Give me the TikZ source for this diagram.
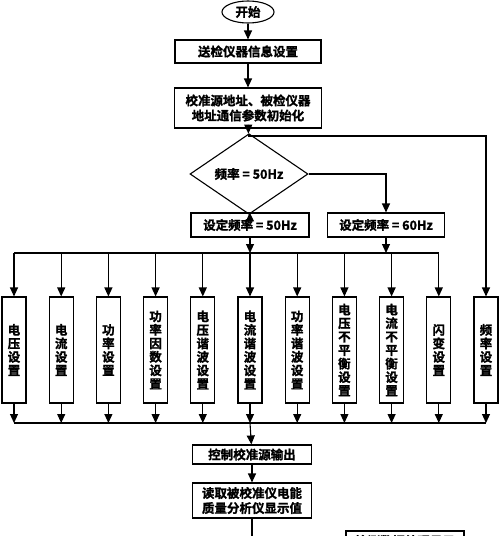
\documentclass[tikz,border=0pt]{standalone}
\usepackage{fontspec}
\setmainfont{Noto Sans CJK SC}[BoldFont={Noto Sans CJK SC Bold}, BoldFeatures={FakeBold=1.5}]
\usetikzlibrary{arrows.meta, positioning, shapes.geometric}

\begin{document}
\begin{tikzpicture}[
x=1pt, y=-1pt,
line width=1.1pt,
font=\bfseries\fontsize{12.5}{15}\selectfont,
box/.style={rectangle, draw, inner sep=1pt, minimum height=23pt},
vbox/.style={rectangle, draw, inner sep=1pt, minimum width=24pt, minimum height=106pt, align=center, font=\bfseries\fontsize{12.5}{13.5}\selectfont},
arrow/.style={-{Triangle[length=9pt,width=8pt]}}
]
\useasboundingbox (0,0) rectangle (500,536);

\node[ellipse, draw, minimum width=52pt, minimum height=22pt, inner sep=0pt] (start) at (248,12) {开始};
\node[box, minimum width=146pt] (info) at (248,51.5) {送检仪器信息设置};
\node[box, minimum width=147pt, minimum height=40pt, align=center] (init) at (248,108) {校准源地址、被检仪器\\地址通信参数初始化};
\node[diamond, draw, minimum width=118pt, minimum height=38pt, inner sep=0pt] (freq) at (249,174) {频率 = 50Hz};
\node[box, minimum width=118pt, minimum height=24pt] (f50) at (250,225) {设定频率 = 50Hz};
\node[box, minimum width=117pt, minimum height=24pt] (f60) at (386,225) {设定频率 = 60Hz};

% setting boxes
\foreach \i/\txt in {1/{电\\压\\设\\置}, 2/{电\\流\\设\\置}, 3/{功\\率\\设\\置},
  4/{功\\率\\因\\数\\设\\置}, 5/{电\\压\\谐\\波\\设\\置}, 6/{电\\流\\谐\\波\\设\\置},
  7/{功\\率\\谐\\波\\设\\置}, 8/{电\\压\\不\\平\\衡\\设\\置}, 9/{电\\流\\不\\平\\衡\\设\\置},
  10/{闪\\变\\设\\置}, 11/{频\\率\\设\\置}}
  \node[vbox] (set\i) at ({14+(\i-1)*47.2},350) {\txt};

\node[box, minimum width=119pt, minimum height=19pt] (ctrl) at (252,454.5) {控制校准源输出};
\node[box, minimum width=119pt, minimum height=35pt, align=center] (read) at (252,500.5) {读取被校准仪电能\\质量分析仪显示值};
\node[box, minimum width=118pt, minimum height=20pt, inner sep=0pt] (proc) at (405,541) {检测数据处理显示};

\coordinate (branch) at (init.south |- 0,136);
\coordinate (topbus) at (0,253);
\coordinate (botbus) at (0,423);
\coordinate (out) at (read.south |- 0,545);

\draw[arrow] (start) -- (info);
\draw[arrow] (info) -- (init);
\draw[arrow] (init) -- (freq);
\draw[arrow] (branch) -| (set11.north);
\draw[arrow] (freq) -- (f50);
\draw[arrow] (freq.east) -| (f60);
\draw[arrow] (f50) -- (f50 |- topbus);
\draw[arrow] (f60) -- (f60 |- topbus);
\draw (set1.north |- topbus) -- (set10.north |- topbus);
\foreach \i in {1,...,10}
  \draw[arrow] (set\i.north |- topbus) -- (set\i.north);
\foreach \i in {1,...,11}
  \draw[arrow] (set\i.south) -- (set\i.south |- botbus);
\draw (set1.south |- botbus) -- (set11.south |- botbus);
\draw[arrow] (set6.south |- botbus) -- (ctrl);
\draw[arrow] (ctrl) -- (read);
\draw[arrow] (read) -- (out);

\end{tikzpicture}
\end{document}
